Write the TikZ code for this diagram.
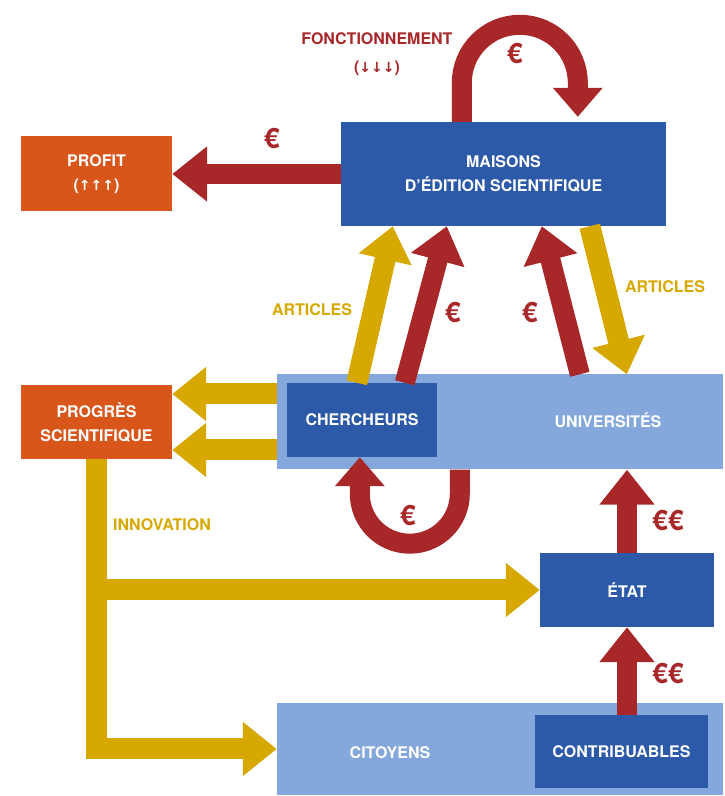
\documentclass[tikz,border=0pt]{standalone}
\usepackage{fontspec}
\setmainfont{TeX Gyre Heros}
\newfontfamily\arrowfont{DejaVu Sans}
\usetikzlibrary{arrows.meta}
\definecolor{euro}{HTML}{A8282A}
\definecolor{gold}{HTML}{D6A800}
\definecolor{navy}{HTML}{2C5AA8}
\definecolor{sky}{HTML}{84A8DC}
\definecolor{rust}{HTML}{D9561A}
\newcommand\boxfont{\bfseries\fontsize{16}{24}\selectfont}

\begin{document}
\begin{tikzpicture}[x=1pt,y=1pt,
    box/.style={fill=#1,text=white,font=\boxfont,align=center,inner sep=0pt},
    redarrow/.style={draw=euro,line width=20pt,-{Triangle[length=35pt,width=53pt]}},
    redloop/.style={draw=euro,line width=20pt,-{Triangle[length=29pt,width=48pt]}},
    goldarrow/.style={draw=gold,line width=21pt,-{Triangle[length=34pt,width=52pt]}},
    euro/.style={text=euro,font=\bfseries\fontsize{28}{28}\selectfont,inner sep=0pt},
    goldlbl/.style={text=gold,font=\boxfont},
    redlbl/.style={text=euro,font=\bfseries\fontsize{16}{28}\selectfont,align=center}]
  \useasboundingbox (0,0) rectangle (725,796);
  % boxes
  \node[box=navy,minimum width=325pt,minimum height=104pt] (maisons) at (503.5,622) {MAISONS\\D'ÉDITION SCIENTIFIQUE};
  \node[box=rust,minimum width=151pt,minimum height=75pt] (profit) at (96.5,622) {PROFIT\\({\arrowfont\fontsize{14}{24}\selectfont ↑↑↑})};
  \node[box=rust,minimum width=151pt,minimum height=74pt] (progres) at (96.5,374) {PROGRÈS\\SCIENTIFIQUE};
  \node[box=sky,minimum width=446pt,minimum height=95pt] (univ) at (500,374) {};
  \node[box=navy,minimum width=150pt,minimum height=74pt] (cher) at (362,376) {CHERCHEURS};
  \node[text=white,font=\boxfont] (univtext) at (608,376) {UNIVERSITÉS};
  \node[box=navy,minimum width=174pt,minimum height=74pt] (etat) at (627,206) {ÉTAT};
  \node[box=sky,minimum width=446pt,minimum height=92pt] (citoyens) at (500,47) {};
  \node[text=white,font=\boxfont] (citext) at (390,43) {CITOYENS};
  \node[box=navy,minimum width=173pt,minimum height=73pt] (contrib) at (621.5,44.5) {CONTRIBUABLES};
  % money
  \draw[redarrow] (maisons.west) -- (profit.east);
  \draw[redloop] ([xshift=121pt]maisons.north west) -- ++(0,39) arc[start angle=180,end angle=0,radius=58]
    -- ([xshift=237pt,yshift=5pt]maisons.north west);
  \draw[redarrow] ([xshift=118pt]cher.north west) -- ([xshift=106pt]maisons.south west);
  \draw[redarrow] ([xshift=303pt]univ.north west) -- ([xshift=201pt]maisons.south west);
  \draw[redloop] ([xshift=183pt]univ.south west) -- ++(0,-24) arc[start angle=0,end angle=-180,radius=50]
    -- ([xshift=73pt]cher.south west);
  \draw[redarrow] (etat.north) -- (etat.north |- univ.south);
  \draw[redarrow] (etat.south |- contrib.north) -- (etat.south);
  % articles, progress
  \draw[goldarrow] ([xshift=70pt]cher.north west) -- ([xshift=52pt]maisons.south west);
  \draw[goldarrow] ([xshift=249pt]maisons.south west) -- ([xshift=350pt]univ.north west);
  \draw[goldarrow] ([yshift=28pt]univ.west) -- ([yshift=28pt]progres.east);
  \draw[goldarrow] ([yshift=-28pt]univ.west) -- ([yshift=-28pt]progres.east);
  \draw[goldarrow,line join=miter] (progres.south) |- (citoyens.west);
  \draw[goldarrow] (progres.south |- etat.west) -- (etat.west);
  % labels
  \node[euro] (e1) at (272,658) {€};
  \node[redlbl] (fonct) at (377,742) {FONCTIONNEMENT\\({\arrowfont\fontsize{14}{28}\selectfont ↓↓↓})};
  \node[euro] (e2) at (515,743) {€};
  \node[goldlbl] (art1) at (312,486) {ARTICLES};
  \node[goldlbl] (art2) at (665,509) {ARTICLES};
  \node[euro] (e3) at (453,484) {€};
  \node[euro] (e4) at (530,484) {€};
  \node[euro] (e5) at (408,281) {€};
  \node[euro] (e6) at (668,276) {€€};
  \node[euro] (e7) at (668,123) {€€};
  \node[goldlbl] (innov) at (162,271) {INNOVATION};
\end{tikzpicture}
\end{document}
